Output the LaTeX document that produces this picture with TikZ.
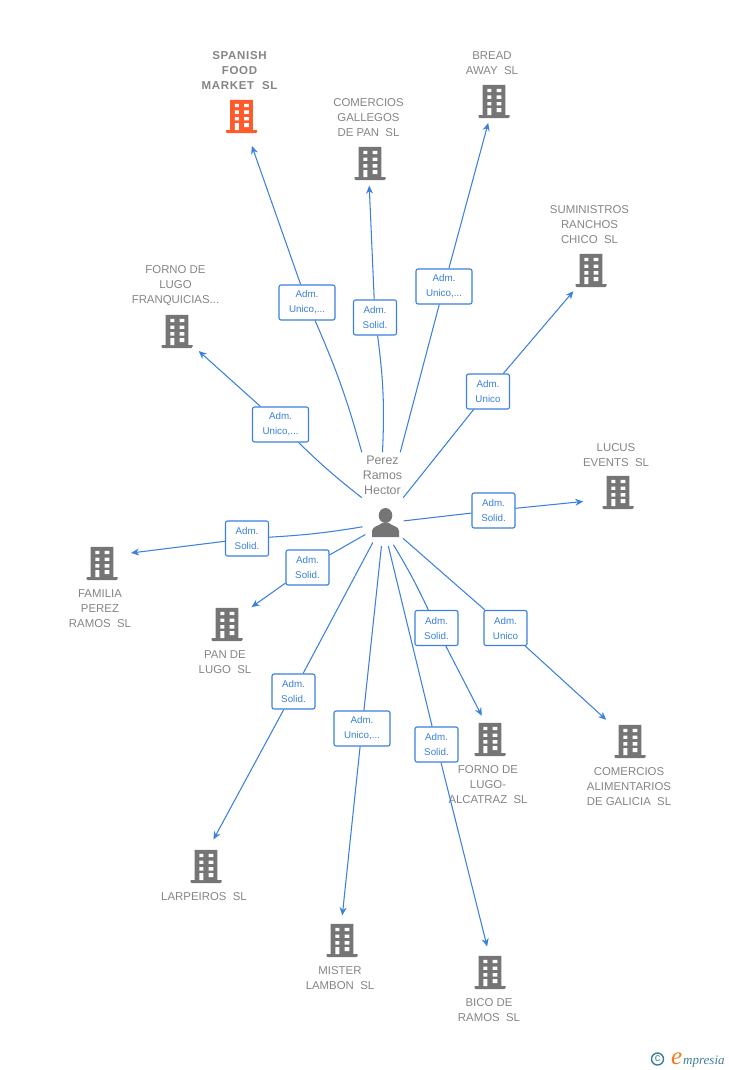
\documentclass[tikz,border=0pt]{standalone}
\usepackage{fontspec}
\setmainfont{Liberation Sans}
\newfontfamily\logofont{Liberation Serif}
\usetikzlibrary{arrows.meta}
\definecolor{linkblue}{HTML}{3A80DC}
\definecolor{firmgray}{HTML}{757575}
\definecolor{namegray}{HTML}{858585}
\definecolor{firmorange}{HTML}{FF5A2B}
\definecolor{logoteal}{HTML}{3E7F96}
\definecolor{logoorange}{HTML}{EE7D1B}
\newcommand{\bldgicon}[1]{%
  \fill[#1] (-11.3,-16.7) rectangle (11.3,15) (-15.5,13.6) rectangle (15.5,16.7);
  \fill[white] (-6.7,-12.7) rectangle (-2.7,-9.3) (2.7,-12.7) rectangle (7.3,-9.3)
    (-6.7,-6) rectangle (-2.7,-2.7) (2.7,-6) rectangle (7.3,-2.7)
    (-6.7,0.7) rectangle (-2.7,4) (2.7,0.7) rectangle (7.3,4)
    (-6.7,6.7) rectangle (-2.7,13.6) (2.7,6.7) rectangle (7.3,10.7);
}
\tikzset{>={Stealth[length=8pt,width=7pt]}}
\tikzset{firm/.style={circle, minimum size=44pt, inner sep=0pt, path picture={\bldgicon{firmgray}}}}
\tikzset{mainfirm/.style={circle, minimum size=44pt, inner sep=0pt, path picture={\bldgicon{firmorange}}}}
\tikzset{firmname/.style={align=center, inner sep=0pt, text=namegray, font=\fontsize{11.4}{15}\selectfont}}
\tikzset{rolebox/.style={draw=linkblue, rounded corners=2pt, line width=1.1pt, fill=white, align=center, inner sep=0pt, text=linkblue, minimum height=35pt, font=\fontsize{9.8}{15}\selectfont}}
\tikzset{widebox/.style={rolebox, minimum width=56pt}}
\tikzset{narrowbox/.style={rolebox, minimum width=43pt}}
\tikzset{link/.style={draw=linkblue, line width=1.05pt}}
\begin{document}
\begin{tikzpicture}[x=1pt,y=-1pt]
\useasboundingbox (0,0) rectangle (728,1070);

\node[mainfirm] (spanish) at (241.5,116.5) {};
\node[firm] (gallegos) at (370,163.5) {};
\node[firm] (bread) at (494,101.5) {};
\node[firm] (ranchos) at (591,270.5) {};
\node[firm] (fornolugo) at (177,331.5) {};
\node[firm] (lucus) at (618,492.5) {};
\node[firm] (familia) at (102,563.5) {};
\node[firm] (panlugo) at (227,624.5) {};
\node[firm] (larpeiros) at (206,866.5) {};
\node[firm] (mister) at (342,940.5) {};
\node[firm] (bico) at (490,972.5) {};
\node[firm] (alcatraz) at (490,739.5) {};
\node[firm] (galicia) at (630,741.5) {};

\node[firmname, font=\fontsize{11.5}{15}\selectfont\bfseries\addfontfeature{LetterSpace=6}] (spanishname) at (239.5,70.5) {SPANISH\\FOOD\\MARKET\ \ SL};
\node[firmname] (gallegosname) at (368.5,118) {COMERCIOS\\GALLEGOS\\DE PAN\ \ SL};
\node[firmname] (breadname) at (492,63.5) {BREAD\\AWAY\ \ SL};
\node[firmname] (ranchosname) at (589.5,225) {SUMINISTROS\\RANCHOS\\CHICO\ \ SL};
\node[firmname] (fornolugoname) at (175.5,286) {FORNO DE\\LUGO\\FRANQUICIAS...};
\node[firmname] (lucusname) at (616,455.5) {LUCUS\\EVENTS\ \ SL};
\node[firmname] (familianame) at (100,609) {FAMILIA\\PEREZ\\RAMOS\ \ SL};
\node[firmname] (panlugoname) at (225,662.5) {PAN DE\\LUGO\ \ SL};
\node[firmname] (larpeirosname) at (204,896.5) {LARPEIROS\ \ SL};
\node[firmname] (mistername) at (340,978.5) {MISTER\\LAMBON\ \ SL};
\node[firmname] (biconame) at (489,1010.5) {BICO DE\\RAMOS\ \ SL};
\node[firmname] (alcatrazname) at (488,785) {FORNO DE\\LUGO-\\ALCATRAZ\ \ SL};
\node[firmname] (galicianame) at (629,787) {COMERCIOS\\ALIMENTARIOS\\DE GALICIA\ \ SL};

% the person in the middle
\node[circle, minimum size=46pt, inner sep=0pt, path picture={
  \fill[firmgray] (0,-7.5) ellipse (6.8 and 7.5);
  \fill[firmgray] (-13.5,14) -- (-13.5,8) .. controls (-13.5,3) and (-6,3) .. (-3.5,0)
    -- (3.5,0) .. controls (6,3) and (13.5,3) .. (13.5,8) -- (13.5,14) -- cycle;
}] (hector) at (385.5,523) {};
\node[firmname, minimum width=41pt, minimum height=45pt, font=\fontsize{12.4}{15}\selectfont] (hectorname) at (382.5,475) {Perez\\Ramos\\Hector};

\node[widebox] (r1) at (307,302.5) {Adm.\\Unico,...};
\node[narrowbox] (r2) at (375,317.5) {Adm.\\Solid.};
\node[widebox] (r3) at (444,286.5) {Adm.\\Unico,...};
\node[narrowbox] (r4) at (488,391.5) {Adm.\\Unico};
\node[widebox] (r5) at (280.5,424.5) {Adm.\\Unico,...};
\node[narrowbox] (r6) at (493.5,510.5) {Adm.\\Solid.};
\node[narrowbox] (r7) at (247,538.5) {Adm.\\Solid.};
\node[narrowbox] (r8) at (307.5,567.5) {Adm.\\Solid.};
\node[narrowbox] (r9) at (293.5,691.5) {Adm.\\Solid.};
\node[widebox] (r10) at (362,728.5) {Adm.\\Unico,...};
\node[narrowbox] (r11) at (436.5,744.5) {Adm.\\Solid.};
\node[narrowbox] (r12) at (436.5,628) {Adm.\\Solid.};
\node[narrowbox] (r13) at (505.5,628) {Adm.\\Unico};

\draw[link] (hectorname.north west) to[bend right=4] (r1);
\draw[link,->,shorten >=9pt] (r1) to (spanish);
\draw[link] (hectorname.north) to[bend right=5] (r2);
\draw[link,->] (r2) to (gallegos.268);
\draw[link] (hectorname.52) to (r3);
\draw[link,->] (r3) to (bread);
\draw[link] (hectorname.south east) to (r4);
\draw[link,->,shorten >=5pt] (r4) to (ranchos);
\draw[link] (hectorname.south west) to[bend left=3] (r5);
\draw[link,->,shorten >=7pt] (r5) to (fornolugo);
\draw[link,shorten <=-5pt] (hector) to (r6);
\draw[link,->,shorten >=14pt] (r6) to (lucus.200);
\draw[link] (hector) to[bend left=3] (r7);
\draw[link,->,shorten >=9pt] (r7) to (familia.25);
\draw[link] (hector) to (r8);
\draw[link,->,shorten >=8pt] (r8) to (panlugo);
\draw[link] (hector.237) to (r9);
\draw[link,->,shorten >=6pt] (r9) to (larpeiros.78);
\draw[link] (hector.-100) to (r10);
\draw[link,->,shorten >=3pt] (r10) to (mister.90);
\draw[link] (hector.-83) to (r11);
\draw[link,->,shorten >=4pt] (r11) to (bico.95);
\draw[link] (hector.-70) to[bend left=3] (r12);
\draw[link,->,shorten >=3pt] (r12) to (alcatraz.108);
\draw[link] (hector) to (r13);
\draw[link,->,shorten >=10pt] (r13) to (galicia);

\node[circle, draw=logoteal, line width=1.4pt, minimum size=12pt, inner sep=0pt, text=logoteal, font=\fontsize{11}{11}\selectfont] (copysign) at (657.5,1059) {c};
\node[anchor=base west, inner sep=0pt, text=logoorange, font=\logofont\itshape\fontsize{25}{25}\selectfont] (logoe) at (671,1064) {e};
\node[anchor=base west, inner sep=0pt, text=logoteal, font=\logofont\itshape\fontsize{13}{13}\selectfont] (logotext) at (683,1064) {mpresia};
\end{tikzpicture}
\end{document}
